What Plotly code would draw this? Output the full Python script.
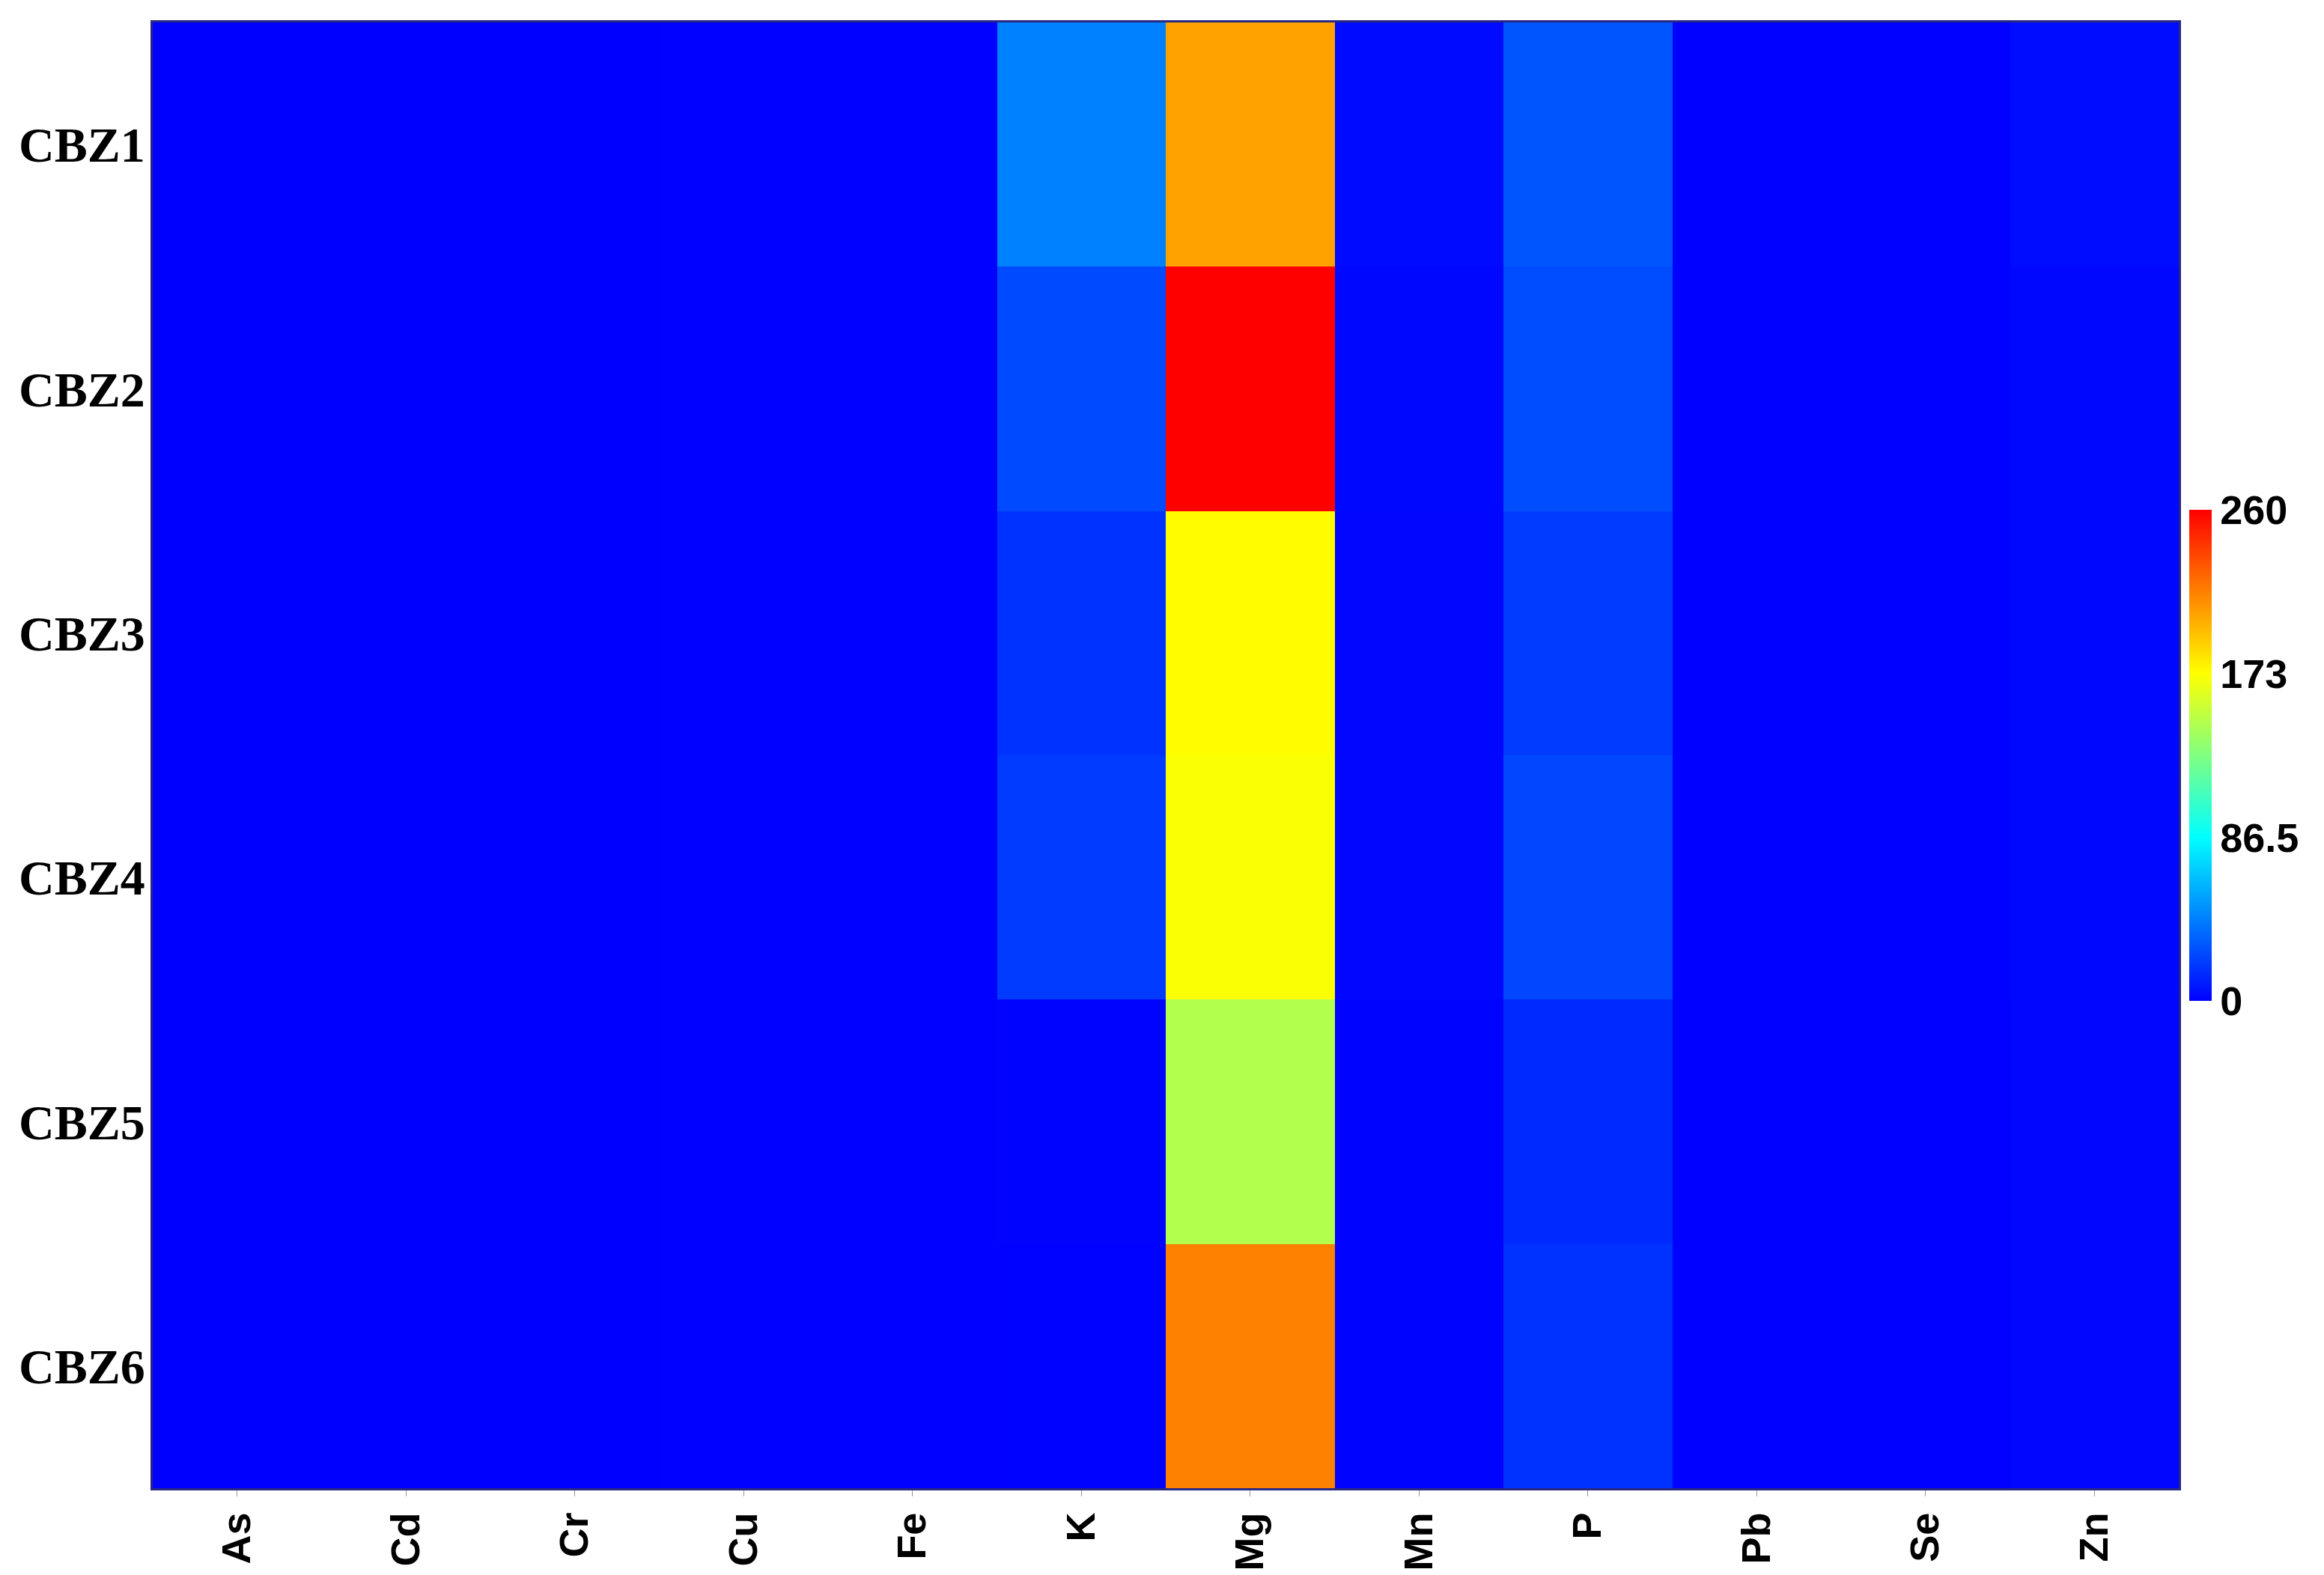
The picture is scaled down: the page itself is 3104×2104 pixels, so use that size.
import plotly.graph_objects as go

# Amostras (linhas) e elementos (colunas)
amostras = ["CBZ1", "CBZ2", "CBZ3", "CBZ4", "CBZ5", "CBZ6"]
elementos = ["As", "Cd", "Cr", "Cu", "Fe", "K", "Mg", "Mn", "P", "Pb", "Se", "Zn"]

# Valores por elemento (CBZ1..CBZ6)
val_as = [0.05, 0.05, 0.05, 0.05, 0.05, 0.05]
val_cd = [0.01, 0.01, 0.01, 0.01, 0.01, 0.01]
val_cr = [0.1, 0.1, 0.1, 0.1, 0.1, 0.1]
val_cu = [0.2, 0.2, 0.2, 0.2, 0.2, 0.2]
val_fe = [0.5, 0.5, 0.5, 0.5, 0.5, 0.5]
val_k = [44, 25, 17, 20, 1.2, 0.8]
val_mg = [205, 260, 174, 172, 147, 216]
val_mn = [3.5, 2.5, 2.0, 2.2, 1.5, 1.5]
val_p = [29, 26, 20, 24, 14, 17]
val_pb = [0.3, 0.3, 0.3, 0.3, 0.3, 0.3]
val_se = [0.4, 0.4, 0.4, 0.4, 0.4, 0.4]
val_zn = [4.0, 2.5, 2.5, 2.5, 2.0, 2.2]

colunas = [val_as, val_cd, val_cr, val_cu, val_fe, val_k,
           val_mg, val_mn, val_p, val_pb, val_se, val_zn]

# Matriz z: uma linha por amostra
z = [[col[i] for col in colunas] for i in range(len(amostras))]

# Escala tipo "jet"
escala = [
    [0.0, "rgb(0,0,255)"],
    [1 / 3, "rgb(0,255,255)"],
    [0.5, "rgb(128,255,128)"],
    [2 / 3, "rgb(255,255,0)"],
    [1.0, "rgb(255,0,0)"],
]

fig = go.Figure(
    go.Heatmap(
        z=z,
        x=elementos,
        y=amostras,
        colorscale=escala,
        zmin=0,
        zmax=260,
        colorbar=dict(
            tickvals=[0, 86.5, 173, 260],
            ticktext=["0", "86.5", "173", "260"],
            len=0.335,
            lenmode="fraction",
            thickness=30,
            x=1.005,
            xanchor="left",
            y=0.5,
            yanchor="middle",
            outlinewidth=0,
            ticks="",
            ticklabelposition="outside",
            tickfont=dict(family="Arial, Liberation Sans", size=54, color="black", weight="bold"),
            xpad=0,
            ypad=0,
        ),
    )
)

# Eixos
fig.update_xaxes(
    tickangle=-90,
    ticks="outside",
    ticklen=8,
    tickcolor="rgb(150,150,170)",
    tickfont=dict(family="Arial, Liberation Sans", size=54, color="black", weight="bold"),
    showline=True,
    linecolor="rgb(40,40,130)",
    linewidth=3,
    mirror=True,
    automargin=False,
)
fig.update_yaxes(
    autorange="reversed",
    ticks="",
    ticklabelstandoff=-6,
    tickfont=dict(family="Times New Roman, Liberation Serif", size=66, color="black", weight="bold"),
    showline=True,
    linecolor="rgb(40,40,130)",
    linewidth=3,
    mirror=True,
    automargin=False,
)

# Margens compensam os 8px do body da página
fig.update_layout(
    width=3104,
    height=2104,
    margin=dict(l=196, r=202, t=22, b=124),
    plot_bgcolor="white",
    paper_bgcolor="white",
)

fig.write_html("out.html")
